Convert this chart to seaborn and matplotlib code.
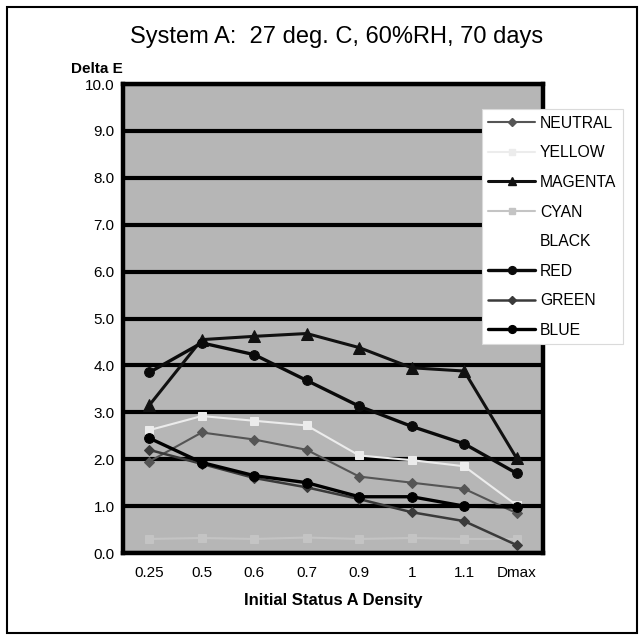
import matplotlib
matplotlib.use("Agg")
import matplotlib.pyplot as plt
from matplotlib.lines import Line2D
from matplotlib.patches import Rectangle
import numpy as np
import seaborn as sns

DENSITY_LABELS = ["0.25", "0.5", "0.6", "0.7", "0.9", "1", "1.1", "Dmax"]

NEUTRAL = [1.95, 2.57, 2.42, 2.2, 1.63, 1.5, 1.37, 0.85]
YELLOW = [2.62, 2.92, 2.82, 2.72, 2.08, 1.98, 1.85, 1.02]
MAGENTA = [3.15, 4.55, 4.62, 4.68, 4.38, 3.95, 3.88, 2.02]
CYAN = [0.3, 0.32, 0.3, 0.33, 0.3, 0.32, 0.3, 0.3]
BLACK = None  # no data drawn in the original
RED = [3.85, 4.48, 4.23, 3.68, 3.13, 2.7, 2.33, 1.7]
GREEN = [2.2, 1.9, 1.6, 1.4, 1.15, 0.87, 0.68, 0.17]
BLUE = [2.45, 1.93, 1.65, 1.5, 1.2, 1.2, 1.0, 0.98]

SERIES = [
    ("NEUTRAL", NEUTRAL, dict(color="#555555", marker="D", lw=1.5, ms=5)),
    ("YELLOW", YELLOW, dict(color="#ececec", marker="s", lw=1.5, ms=6)),
    ("MAGENTA", MAGENTA, dict(color="#111111", marker="^", lw=2.2, ms=8)),
    ("CYAN", CYAN, dict(color="#c4c4c4", marker="s", lw=1.5, ms=6)),
    ("BLACK", BLACK, None),
    ("RED", RED, dict(color="#0a0a0a", marker="o", lw=2.4, ms=7)),
    ("GREEN", GREEN, dict(color="#3a3a3a", marker="D", lw=1.8, ms=5)),
    ("BLUE", BLUE, dict(color="#000000", marker="o", lw=2.4, ms=7)),
]

sns.set_theme(style="white")
plt.rcParams["font.family"] = ["Liberation Sans", "DejaVu Sans"]
plt.rcParams.update({"text.color": "black", "axes.labelcolor": "black",
                     "xtick.color": "black", "ytick.color": "black"})

fig = plt.figure(figsize=(6.44, 6.35), dpi=100)
ax = fig.add_axes([0.191, 0.1291, 0.652, 0.7386])
ax.set_facecolor("#b6b6b6")

handles = []
for name, values, style in SERIES:
    if values is None:
        handles.append(Line2D([], [], ls="none", label=name))
        continue
    sns.lineplot(
        x=DENSITY_LABELS, y=values, ax=ax, sort=False,
        color=style["color"], marker=style["marker"], linewidth=style["lw"],
        markersize=style["ms"], markeredgecolor=style["color"], zorder=3,
    )
    handles.append(Line2D([], [], color=style["color"], marker=style["marker"],
                          lw=style["lw"], ms=style["ms"] * 0.8, label=name))

ax.set_xlim(-0.5, len(DENSITY_LABELS) - 0.5)
ax.set_ylim(0, 10)
ax.set_yticks(np.arange(0, 10.5, 1.0))
ax.set_yticklabels([f"{v:.1f}" for v in np.arange(0, 10.5, 1.0)], fontsize=11)
ax.set_xticks(range(len(DENSITY_LABELS)))
ax.set_xticklabels(DENSITY_LABELS, fontsize=11)
ax.set_xticks(np.arange(-0.5, len(DENSITY_LABELS)), minor=True)
ax.tick_params(axis="x", which="major", length=0, pad=9)
ax.tick_params(axis="x", which="minor", length=5, width=2.5, direction="out", color="black")
ax.tick_params(axis="y", length=0, pad=6)

ax.yaxis.grid(True, color="black", linewidth=3.0)
ax.xaxis.grid(False)
ax.set_axisbelow(True)
for spine in ax.spines.values():
    spine.set_visible(True)
    spine.set_color("black")
    spine.set_linewidth(3.2)

ax.set_xlabel("Initial Status A Density", fontsize=12, fontweight="bold", labelpad=10)
ax.set_ylabel("")
fig.text(0.150, 0.892, "Delta E", fontsize=11, fontweight="bold", ha="center", va="center")
fig.text(0.523, 0.941, "System A:  27 deg. C, 60%RH, 70 days", fontsize=17,
         ha="center", va="center")

leg = fig.legend(handles=handles, loc="upper left", bbox_to_anchor=(0.736, 0.840),
                 fontsize=11.3, frameon=True, fancybox=False, framealpha=1.0,
                 handlelength=3.0, handletextpad=0.3, labelspacing=0.93, borderpad=0.4)
leg.get_frame().set_facecolor("white")
leg.get_frame().set_edgecolor("#dadada")
leg.get_frame().set_linewidth(0.8)

fig.patches.append(Rectangle((0.011, 0.003), 0.978, 0.986, transform=fig.transFigure,
                             fill=False, edgecolor="black", linewidth=1.5))

fig.savefig("out.png", dpi=100)
